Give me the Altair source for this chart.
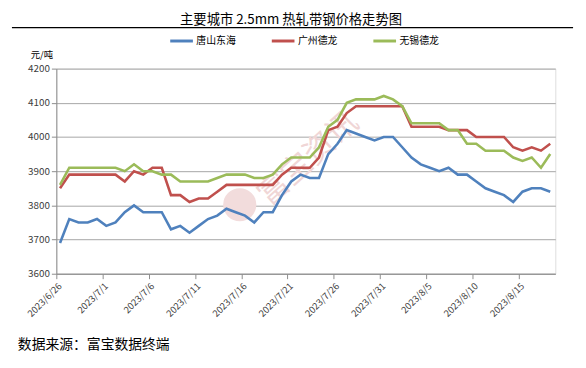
import json
import altair as alt
import pandas as pd

# ---------------- data ----------------
series_names = ["唐山东海", "广州德龙", "无锡德龙"]
series_colors = ["#4F81BD", "#C0504D", "#9BBB59"]

# daily prices 2023/6/26 .. 2023/8/18 (54 days)
tangshan = [3690, 3760, 3750, 3750, 3760, 3740, 3750, 3780, 3800, 3780,
            3780, 3780, 3730, 3740, 3720, 3740, 3760, 3770, 3790, 3780,
            3770, 3750, 3780, 3780, 3830, 3870, 3890, 3880, 3880, 3950,
            3980, 4020, 4010, 4000, 3990, 4000, 4000, 3970, 3940, 3920,
            3910, 3900, 3910, 3890, 3890, 3870, 3850, 3840, 3830, 3810,
            3840, 3850, 3850, 3840]
guangzhou = [3850, 3890, 3890, 3890, 3890, 3890, 3890, 3870, 3900, 3890,
             3910, 3910, 3830, 3830, 3810, 3820, 3820, 3840, 3860, 3860,
             3860, 3860, 3860, 3860, 3890, 3910, 3910, 3910, 3940, 4020,
             4030, 4070, 4090, 4090, 4090, 4090, 4090, 4090, 4030, 4030,
             4030, 4030, 4020, 4020, 4020, 4000, 4000, 4000, 4000, 3970,
             3960, 3970, 3960, 3980]
wuxi = [3860, 3910, 3910, 3910, 3910, 3910, 3910, 3900, 3920, 3900,
        3900, 3890, 3890, 3870, 3870, 3870, 3870, 3880, 3890, 3890,
        3890, 3880, 3880, 3890, 3920, 3940, 3940, 3940, 3970, 4030,
        4050, 4100, 4110, 4110, 4110, 4120, 4110, 4090, 4040, 4040,
        4040, 4040, 4020, 4020, 3980, 3980, 3960, 3960, 3960, 3940,
        3930, 3940, 3910, 3950]

tick_labels = ["2023/6/26", "2023/7/1", "2023/7/6", "2023/7/11", "2023/7/16",
               "2023/7/21", "2023/7/26", "2023/7/31", "2023/8/5", "2023/8/10",
               "2023/8/15"]
y_ticks = [3600, 3700, 3800, 3900, 4000, 4100, 4200]

title_text = "主要城市 2.5mm 热轧带钢价格走势图"
unit_text = "元/吨"
source_text = "数据来源：富宝数据终端"
watermark_text = "富宝资讯"

# ---------------- build table ----------------
rows = []
for name, vals in zip(series_names, [tangshan, guangzhou, wuxi]):
    for i, v in enumerate(vals):
        rows.append({"i": i, "series": name, "value": v})
df = pd.DataFrame(rows)

FONT = "Noto Sans CJK SC"
TICK_OFF = -0.4
tick_vals = [TICK_OFF + 5 * k for k in range(len(tick_labels))]
label_expr = json.dumps(tick_labels) + "[round((datum.value - (" + str(TICK_OFF) + ")) / 5)]"

x_enc = alt.X(
    "i:Q",
    scale=alt.Scale(domain=[TICK_OFF, 53.55], nice=False, zero=False),
    axis=alt.Axis(
        values=tick_vals, labelExpr=label_expr, title=None, grid=False,
        labelAngle=-45, labelAlign="right", labelBaseline="top",
        labelFontSize=9.5, labelColor="#404040", labelFont=FONT,
        domainColor="#8c8c8c", tickColor="#8c8c8c", tickSize=5,
        labelPadding=2, labelOverlap=False, labelFlush=False,
    ),
)
y_enc = alt.Y(
    "value:Q",
    scale=alt.Scale(domain=[3600, 4200], nice=False, zero=False),
    axis=alt.Axis(
        values=y_ticks, title=None, grid=True, gridColor="#a6a6a6",
        gridWidth=1, labelFontSize=10, labelColor="#404040", labelFont=FONT,
        domainColor="#8c8c8c", tickColor="#8c8c8c", tickSize=5,
        labelPadding=2, format="d",
    ),
)

lines = alt.Chart(df).mark_line(strokeWidth=2.6).encode(
    x=x_enc,
    y=y_enc,
    color=alt.Color(
        "series:N",
        scale=alt.Scale(domain=series_names, range=series_colors),
        legend=alt.Legend(
            title=None, orient="none", direction="horizontal",
            legendX=114, legendY=-41, symbolType="stroke", symbolSize=529,
            symbolStrokeWidth=3, labelFontSize=10, labelFont=FONT,
            labelColor="#000000", columnPadding=30, labelOffset=2,
        ),
    ),
    order="i:Q",
)


def text_layer(txt, x, y, size, align="left", color="#000000", angle=0, weight="normal"):
    kw = dict(align=align, baseline="middle", fontSize=size, font=FONT,
              color=color, fontWeight=weight)
    if angle:
        kw["angle"] = angle
    return alt.Chart(pd.DataFrame({"t": [txt]})).mark_text(**kw).encode(
        text="t:N", x=alt.value(x), y=alt.value(y)
    )


title = text_layer(title_text, 238, -49.5, 13.5, align="center")
underline = alt.Chart(pd.DataFrame({"t": [0]})).mark_rule(
    color="#000000", strokeWidth=1.2
).encode(x=alt.value(-45), x2=alt.value(524), y=alt.value(-41.5))
unit = text_layer(unit_text, -26, -14, 9.5)
source = text_layer(source_text, -39, 280, 14)
wm_text = text_layer(watermark_text, 256, 92, 31, align="center",
                     color="#f0d6d6", angle=318)
wm_logo = alt.Chart(pd.DataFrame({"t": [0]})).mark_point(
    filled=True, shape="circle", size=1130, color="#f2dcdc", opacity=1
).encode(x=alt.value(186), y=alt.value(138))

chart = alt.layer(wm_logo, wm_text, lines, title, underline, unit, source).properties(
    width=506,
    height=208,
    autosize=alt.AutoSizeParams(type="none"),
    padding={"left": 49, "top": 59, "right": 23, "bottom": 85},
).configure_view(stroke=None).configure(background="#ffffff")

chart.save("out.html", embed_options={"renderer": "svg", "actions": False})
